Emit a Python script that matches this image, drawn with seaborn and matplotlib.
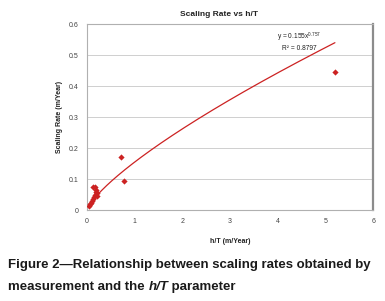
import numpy as np
import pandas as pd
import matplotlib
matplotlib.use("Agg")
import matplotlib.pyplot as plt
import seaborn as sns

ht = [0.05, 0.07, 0.08, 0.10, 0.12, 0.13, 0.16, 0.14, 0.17, 0.18, 0.20, 0.22, 0.19, 0.72, 0.78, 5.20]
rate = [0.012, 0.020, 0.024, 0.030, 0.036, 0.075, 0.074, 0.042, 0.050, 0.058, 0.054, 0.044, 0.064, 0.172, 0.095, 0.447]

# power trendline as printed on the chart
coef_a = 0.155
coef_b = 0.757
r2 = 0.8797

xticks = [0, 1, 2, 3, 4, 5, 6]
yticks = [0, 0.1, 0.2, 0.3, 0.4, 0.5, 0.6]
yticklabels = ["0", "0.1", "0.2", "0.3", "0.4", "0.5", "0.6"]

df = pd.DataFrame({"ht": ht, "rate": rate})
xfit = np.linspace(min(ht), max(ht), 200)
fit = pd.DataFrame({"ht": xfit, "rate": coef_a * xfit ** coef_b})

sns.set_theme(style="white")
plt.rcParams["font.family"] = ["Liberation Sans", "DejaVu Sans"]
plt.rcParams["mathtext.fontset"] = "custom"
plt.rcParams["mathtext.rm"] = "Liberation Sans"
plt.rcParams["mathtext.it"] = "Liberation Sans:italic"

red = "#cc2222"
fig = plt.figure(figsize=(3.85, 3.01), dpi=100)
ax = fig.add_axes([0.226, 0.302, 0.743, 0.618])

sns.lineplot(data=fit, x="ht", y="rate", color=red, lw=0.9, ax=ax)
sns.scatterplot(data=df, x="ht", y="rate", marker="D", s=10, color=red,
                edgecolor=red, linewidth=0, ax=ax, zorder=3)

ax.set_xlim(0, 6)
ax.set_ylim(0, 0.6)
ax.set_xticks(xticks)
ax.set_yticks(yticks)
ax.set_yticklabels(yticklabels)
ax.tick_params(labelsize=5, colors="#444444", length=0, pad=6)
ax.yaxis.grid(True, color="#cfcfcf", lw=0.7)
ax.xaxis.grid(False)
for s in ["left", "bottom", "top"]:
    ax.spines[s].set_color("#b0b0b0")
    ax.spines[s].set_linewidth(0.8)
ax.spines["right"].set_color("#8c8c8c")
ax.spines["right"].set_linewidth(1.6)

ax.set_xlabel("h/T (m/Year)", fontsize=5, fontweight="bold", color="#222222", labelpad=9)
ax.set_ylabel("Scaling Rate (m/Year)", fontsize=5, fontweight="bold", color="#222222", labelpad=4)
ax.set_title("Scaling Rate vs h/T", fontsize=6, fontweight="bold", color="#222222", pad=6, x=0.46)

ax.text(4.45, 0.51, "y = 0.155x$^{0.757}$\nR² = 0.8797", fontsize=4.8,
        color="#222222", ha="center", va="bottom", linespacing=1.25)

cap = dict(fontsize=9.5, fontweight="bold", color="#1a1a1a", va="center")
fig.text(0.021, 0.118, "Figure 2\u2014Relationship between scaling rates obtained by", **cap)
# second line: italic h/T in the middle
fig.canvas.draw()
r = fig.canvas.get_renderer()
t1 = fig.text(0.021, 0.045, "measurement and the ", **cap)
x1 = t1.get_window_extent(r).x1 / fig.bbox.width
t2 = fig.text(x1, 0.045, "h/T", style="italic", **cap)
x2 = t2.get_window_extent(r).x1 / fig.bbox.width
fig.text(x2, 0.045, " parameter", **cap)

fig.savefig("out.png", dpi=100)
